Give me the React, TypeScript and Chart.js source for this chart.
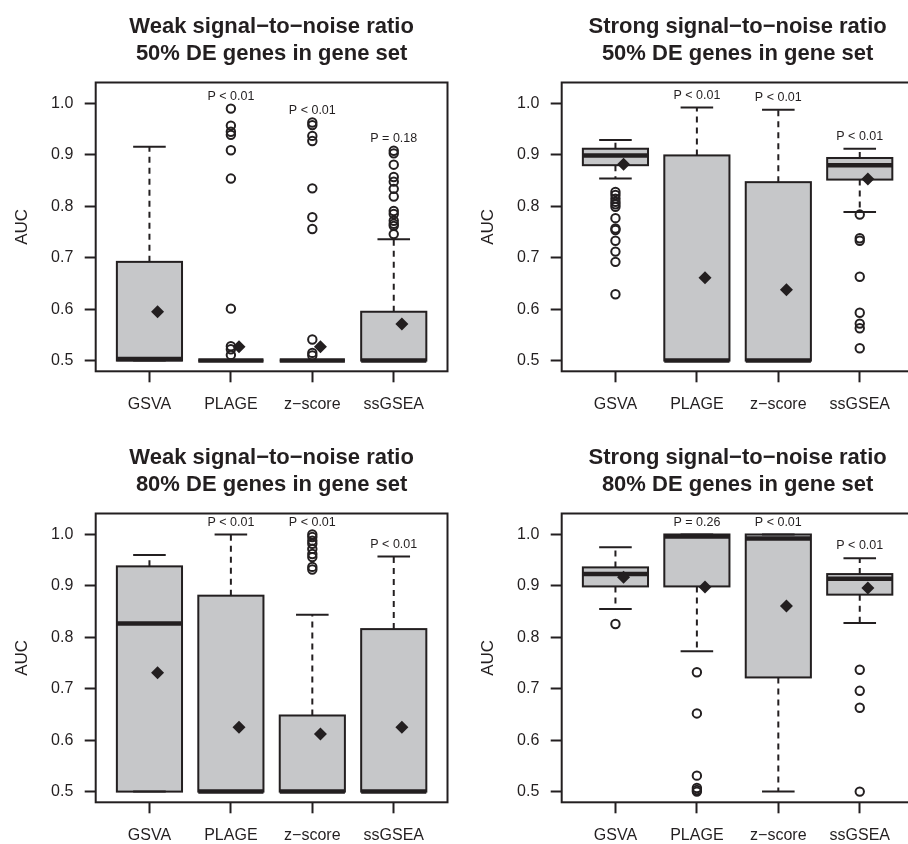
import React, { useEffect, useRef } from 'react';
import { Chart, registerables } from 'chart.js';

Chart.register(...registerables);

const FONT = '"Liberation Sans", Arial, Helvetica, sans-serif';
const INK = '#231f20';
const FILL = '#c6c7c9';

const CATEGORIES = ['GSVA', 'PLAGE', 'z\u2212score', 'ssGSEA'];
const Y_TICKS = [0.5, 0.6, 0.7, 0.8, 0.9, 1.0];
const Y_LABEL = 'AUC';

// Panel 1: weak signal, 50% DE
const W50_TITLE = ['Weak signal\u2212to\u2212noise ratio', '50% DE genes in gene set'];
const W50_LOWER = [0.5, 0.5, 0.5, 0.5];
const W50_Q1 = [0.5, 0.5, 0.5, 0.5];
const W50_MEDIAN = [0.503, 0.5, 0.5, 0.5];
const W50_Q3 = [0.692, 0.5, 0.5, 0.595];
const W50_UPPER = [0.916, 0.5, 0.5, 0.736];
const W50_MEAN = [0.595, 0.527, 0.527, 0.571];
const W50_OUTLIERS = [
  [],
  [0.99, 0.957, 0.945, 0.939, 0.909, 0.854, 0.601, 0.528, 0.522, 0.511],
  [0.963, 0.958, 0.937, 0.927, 0.835, 0.779, 0.756, 0.541, 0.515, 0.51],
  [0.908, 0.903, 0.881, 0.857, 0.848, 0.834, 0.819, 0.791, 0.785, 0.772, 0.766, 0.762, 0.746],
];
const W50_P = ['', 'P < 0.01', 'P < 0.01', 'P = 0.18'];

// Panel 2: strong signal, 50% DE
const S50_TITLE = ['Strong signal\u2212to\u2212noise ratio', '50% DE genes in gene set'];
const S50_LOWER = [0.854, 0.5, 0.5, 0.789];
const S50_Q1 = [0.88, 0.5, 0.5, 0.852];
const S50_MEDIAN = [0.899, 0.5, 0.5, 0.88];
const S50_Q3 = [0.912, 0.899, 0.847, 0.894];
const S50_UPPER = [0.929, 0.992, 0.988, 0.912];
const S50_MEAN = [0.882, 0.661, 0.638, 0.853];
const S50_OUTLIERS = [
  [0.828, 0.822, 0.815, 0.809, 0.804, 0.799, 0.777, 0.757, 0.754, 0.733, 0.712, 0.692, 0.629],
  [],
  [],
  [0.784, 0.738, 0.733, 0.663, 0.593, 0.572, 0.563, 0.524],
];
const S50_P = ['', 'P < 0.01', 'P < 0.01', 'P < 0.01'];

// Panel 3: weak signal, 80% DE
const W80_TITLE = ['Weak signal\u2212to\u2212noise ratio', '80% DE genes in gene set'];
const W80_LOWER = [0.5, 0.5, 0.5, 0.5];
const W80_Q1 = [0.5, 0.5, 0.5, 0.5];
const W80_MEDIAN = [0.827, 0.5, 0.5, 0.5];
const W80_Q3 = [0.938, 0.881, 0.648, 0.816];
const W80_UPPER = [0.96, 1.0, 0.844, 0.957];
const W80_MEAN = [0.731, 0.625, 0.612, 0.625];
const W80_OUTLIERS = [
  [],
  [],
  [1.0, 0.995, 0.988, 0.982, 0.972, 0.962, 0.956, 0.937, 0.932],
  [],
];
const W80_P = ['', 'P < 0.01', 'P < 0.01', 'P < 0.01'];

// Panel 4: strong signal, 80% DE
const S80_TITLE = ['Strong signal\u2212to\u2212noise ratio', '80% DE genes in gene set'];
const S80_LOWER = [0.855, 0.773, 0.5, 0.828];
const S80_Q1 = [0.899, 0.899, 0.722, 0.883];
const S80_MEDIAN = [0.923, 0.996, 0.992, 0.914];
const S80_Q3 = [0.936, 1.0, 1.0, 0.923];
const S80_UPPER = [0.975, 1.0, 1.0, 0.954];
const S80_MEAN = [0.917, 0.898, 0.861, 0.896];
const S80_OUTLIERS = [
  [0.826],
  [0.732, 0.652, 0.531, 0.507, 0.503, 0.5],
  [],
  [0.737, 0.696, 0.663, 0.5],
];
const S80_P = ['', 'P = 0.26', 'P < 0.01', 'P < 0.01'];

type Panel = {
  title: string[];
  lower: number[];
  q1: number[];
  median: number[];
  q3: number[];
  upper: number[];
  mean: number[];
  outliers: number[][];
  pLabels: string[];
  left: number;
  top: number;
};

const PANELS: Panel[] = [
  { title: W50_TITLE, lower: W50_LOWER, q1: W50_Q1, median: W50_MEDIAN, q3: W50_Q3, upper: W50_UPPER, mean: W50_MEAN, outliers: W50_OUTLIERS, pLabels: W50_P, left: 0, top: 0 },
  { title: S50_TITLE, lower: S50_LOWER, q1: S50_Q1, median: S50_MEDIAN, q3: S50_Q3, upper: S50_UPPER, mean: S50_MEAN, outliers: S50_OUTLIERS, pLabels: S50_P, left: 466, top: 0 },
  { title: W80_TITLE, lower: W80_LOWER, q1: W80_Q1, median: W80_MEDIAN, q3: W80_Q3, upper: W80_UPPER, mean: W80_MEAN, outliers: W80_OUTLIERS, pLabels: W80_P, left: 0, top: 431 },
  { title: S80_TITLE, lower: S80_LOWER, q1: S80_Q1, median: S80_MEDIAN, q3: S80_Q3, upper: S80_UPPER, mean: S80_MEAN, outliers: S80_OUTLIERS, pLabels: S80_P, left: 466, top: 431 },
];

const W = 454;
const H = 422;
const X_MIN = 0.34;
const X_MAX = 4.66;
const Y_MIN = 0.4792;
const Y_MAX = 1.0408;
const BOX_HALF = 0.4;
const MEAN_SHIFT = 0.1;
const P_OFFSET = 0.024;

function BoxPanel({ panel }: { panel: Panel }) {
  const ref = useRef<HTMLCanvasElement>(null);

  useEffect(() => {
    const canvas = ref.current;
    if (!canvas) return;

    const outlierPts = panel.outliers.flatMap((vals, i) => vals.map((v) => ({ x: i + 1, y: v })));
    const meanPts = panel.mean.map((v, i) => ({ x: i + 1 + MEAN_SHIFT, y: v }));

    const boxPlugin = {
      id: 'rBoxes',
      beforeDatasetsDraw(chart: any) {
        const { ctx, scales } = chart;
        const xs = scales.x;
        const ys = scales.y;
        const half = xs.getPixelForValue(1 + BOX_HALF) - xs.getPixelForValue(1);
        const staple = half / 2;
        const seg = (x1: number, y1: number, x2: number, y2: number) => {
          ctx.beginPath();
          ctx.moveTo(x1, y1);
          ctx.lineTo(x2, y2);
          ctx.stroke();
        };
        ctx.save();
        ctx.strokeStyle = INK;
        ctx.lineCap = 'butt';
        panel.q1.forEach((q1, i) => {
          const cx = xs.getPixelForValue(i + 1);
          const yq1 = ys.getPixelForValue(q1);
          const yq3 = ys.getPixelForValue(panel.q3[i]);
          const ylo = ys.getPixelForValue(panel.lower[i]);
          const yhi = ys.getPixelForValue(panel.upper[i]);
          const ymed = ys.getPixelForValue(panel.median[i]);
          // box
          ctx.fillStyle = FILL;
          ctx.fillRect(cx - half, yq3, 2 * half, yq1 - yq3);
          ctx.lineWidth = 2;
          ctx.strokeRect(cx - half, yq3, 2 * half, yq1 - yq3);
          // whiskers
          ctx.setLineDash([6, 5]);
          if (yhi < yq3) seg(cx, yq3, cx, yhi);
          if (ylo > yq1) seg(cx, yq1, cx, ylo);
          ctx.setLineDash([]);
          seg(cx - staple, yhi, cx + staple, yhi);
          seg(cx - staple, ylo, cx + staple, ylo);
          // median
          ctx.lineWidth = 4.5;
          seg(cx - half, ymed, cx + half, ymed);
        });
        ctx.restore();
      },
      afterDraw(chart: any) {
        const { ctx, chartArea, scales } = chart;
        const xs = scales.x;
        const ys = scales.y;
        ctx.save();
        // frame
        ctx.strokeStyle = INK;
        ctx.lineWidth = 2;
        ctx.strokeRect(chartArea.left, chartArea.top, chartArea.right - chartArea.left, chartArea.bottom - chartArea.top);
        // p-value labels
        ctx.fillStyle = INK;
        ctx.font = `12.5px ${FONT}`;
        ctx.textAlign = 'center';
        ctx.textBaseline = 'middle';
        panel.pLabels.forEach((label, i) => {
          if (!label) return;
          const top = Math.max(panel.upper[i], ...panel.outliers[i]);
          ctx.fillText(label, xs.getPixelForValue(i + 1), ys.getPixelForValue(top + P_OFFSET));
        });
        // title
        ctx.font = `bold 22px ${FONT}`;
        ctx.textBaseline = 'alphabetic';
        const cx = (chartArea.left + chartArea.right) / 2;
        ctx.fillText(panel.title[0], cx, 33);
        ctx.fillText(panel.title[1], cx, 59.5);
        ctx.restore();
      },
    };

    const chart = new Chart(canvas, {
      type: 'scatter',
      data: {
        datasets: [
          {
            data: outlierPts,
            pointStyle: 'circle',
            pointRadius: 4.2,
            pointBorderWidth: 2,
            pointBackgroundColor: 'rgba(0,0,0,0)',
            pointBorderColor: INK,
            showLine: false,
            clip: false,
          } as any,
          {
            data: meanPts,
            pointStyle: 'rectRot',
            pointRadius: 6.5,
            pointBorderWidth: 0,
            pointBackgroundColor: INK,
            pointBorderColor: INK,
            showLine: false,
            clip: false,
          } as any,
        ],
      },
      options: {
        responsive: false,
        animation: false,
        events: [],
        layout: { padding: { top: 82.5, right: 2.7, left: 0, bottom: 0 } },
        plugins: {
          legend: { display: false },
          tooltip: { enabled: false },
          title: { display: false },
        },
        scales: {
          x: {
            type: 'linear',
            min: X_MIN,
            max: X_MAX,
            afterBuildTicks: (s: any) => {
              s.ticks = CATEGORIES.map((_, i) => ({ value: i + 1 }));
            },
            afterFit: (s: any) => {
              s.height = 50.7;
            },
            ticks: {
              callback: (_v: any, idx: number) => CATEGORIES[idx],
              autoSkip: false,
              maxRotation: 0,
              minRotation: 0,
              padding: 13,
              color: INK,
              font: { family: FONT, size: 16 },
            },
            grid: { display: true, drawOnChartArea: false, drawTicks: true, tickLength: 11, tickWidth: 2, tickColor: INK },
            border: { display: false },
          },
          y: {
            type: 'linear',
            min: Y_MIN,
            max: Y_MAX,
            afterBuildTicks: (s: any) => {
              s.ticks = Y_TICKS.map((v) => ({ value: v }));
            },
            afterFit: (s: any) => {
              s.width = 95.7;
            },
            ticks: {
              callback: (v: any) => Number(v).toFixed(1),
              autoSkip: false,
              padding: 11.4,
              color: INK,
              font: { family: FONT, size: 16 },
            },
            grid: { display: true, drawOnChartArea: false, drawTicks: true, tickLength: 11, tickWidth: 2, tickColor: INK },
            border: { display: false },
            title: {
              display: true,
              text: Y_LABEL,
              color: INK,
              font: { family: FONT, size: 17 },
              padding: { top: 12, bottom: 0 },
            },
          },
        },
      } as any,
      plugins: [boxPlugin],
    });

    return () => chart.destroy();
  }, [panel]);

  return (
    <canvas
      ref={ref}
      width={W}
      height={H}
      style={{ position: 'absolute', left: panel.left, top: panel.top, width: W, height: H, display: 'block' }}
    />
  );
}

export default function App() {
  return (
    <div
      style={{
        position: 'fixed',
        left: 0,
        top: 0,
        width: 908,
        height: 844,
        overflow: 'hidden',
        background: '#ffffff',
      }}
    >
      {PANELS.map((p, i) => (
        <BoxPanel key={i} panel={p} />
      ))}
    </div>
  );
}
